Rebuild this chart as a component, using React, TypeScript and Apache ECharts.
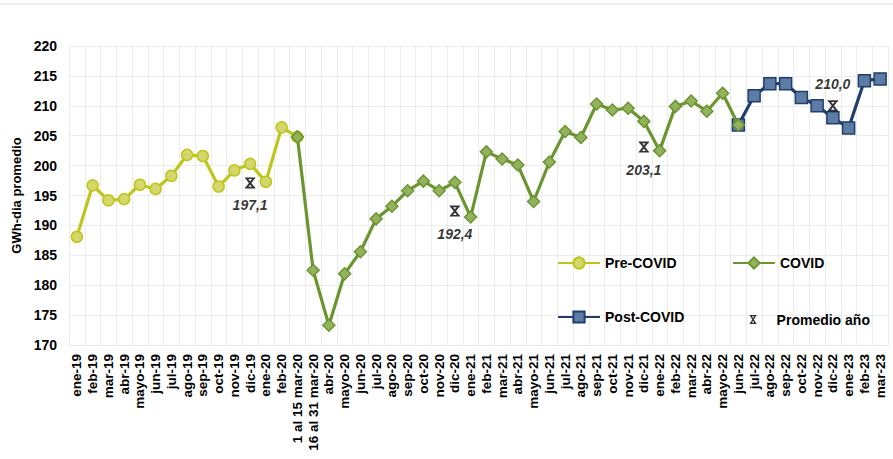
import React, { useEffect, useRef } from "react";
import * as echarts from "echarts";

const categories = [
  "ene-19", "feb-19", "mar-19", "abr-19", "mayo-19", "jun-19", "jul-19", "ago-19", "sep-19", "oct-19", "nov-19", "dic-19",
  "ene-20", "feb-20", "1 al 15 mar-20", "16 al 31 mar-20", "abr-20", "mayo-20", "jun-20", "jul-20", "ago-20", "sep-20", "oct-20", "nov-20", "dic-20",
  "ene-21", "feb-21", "mar-21", "abr-21", "mayo-21", "jun-21", "jul-21", "ago-21", "sep-21", "oct-21", "nov-21", "dic-21",
  "ene-22", "feb-22", "mar-22", "abr-22", "mayo-22", "jun-22", "jul-22", "ago-22", "sep-22", "oct-22", "nov-22", "dic-22",
  "ene-23", "feb-23", "mar-23",
];

const preCovidStart = "ene-19";
const preCovidValues = [188.1, 196.7, 194.2, 194.4, 196.8, 196.1, 198.3, 201.8, 201.6, 196.5, 199.2, 200.3, 197.3, 206.4, 204.8];

const covidStart = "1 al 15 mar-20";
const covidValues = [
  204.8, 182.5, 173.3, 181.9, 185.6, 191.1, 193.2, 195.8, 197.4, 195.8, 197.2,
  191.4, 202.3, 201.1, 200.1, 194.0, 200.6, 205.7, 204.7, 210.3, 209.3, 209.6, 207.4,
  202.5, 209.9, 210.8, 209.1, 212.1, 206.8,
];

const postCovidStart = "jun-22";
const postCovidValues = [206.8, 211.7, 213.7, 213.7, 211.4, 210.0, 208.0, 206.3, 214.2, 214.5];

const avgCategories = ["dic-19", "dic-20", "dic-21", "dic-22"];
const avgValues = [197.1, 192.4, 203.1, 210.0];
const avgLabelPos = ["bottom", "bottom", "bottom", "top"];

const yTicks = { min: 170, max: 220, interval: 5 };

function placeSeries(start: string, values: number[]) {
  const s = categories.indexOf(start);
  return categories.map((_, i) => (i >= s && i < s + values.length ? values[i - s] : null));
}

const starPath =
  "path://M1.5,0L8.5,0L8.5,1.5L1.5,1.5Z" +
  "M1.5,8.5L8.5,8.5L8.5,10L1.5,10Z" +
  "M1,0L2.8,0L9,10L7.2,10Z" +
  "M7.2,0L9,0L2.8,10L1,10Z";
const FONT = "Liberation Sans, Arial, sans-serif";

export default function App() {
  const ref = useRef<HTMLDivElement>(null);
  useEffect(() => {
    if (!ref.current) return;
    const chart = echarts.init(ref.current, undefined, { renderer: "svg" });

    const avgData = categories.map((c) => {
      const k = avgCategories.indexOf(c);
      if (k < 0) return null;
      return {
        value: avgValues[k],
        label: { position: avgLabelPos[k], distance: avgLabelPos[k] === "top" ? 9 : 10 },
      };
    });

    const legendText = { fontFamily: FONT, fontWeight: "bold", fontSize: 14, color: "#000" };
    const legendCommon = {
      itemWidth: 42,
      itemHeight: 14,
      itemGap: 0,
      padding: 0,
      textStyle: legendText,
    };

    chart.setOption({
      animation: false,
      backgroundColor: "#fff",
      textStyle: { fontFamily: FONT },
      graphic: [
        { type: "rect", shape: { x: 0, y: 3, width: 893, height: 2 }, style: { fill: "#eeeeee" }, silent: true },
      ],
      grid: { left: 69, right: 5, top: 46, bottom: 114 },
      legend: [
        { ...legendCommon, data: ["Pre-COVID"], left: 557, top: 256 },
        { ...legendCommon, data: ["COVID"], left: 732, top: 256 },
        { ...legendCommon, data: ["Post-COVID"], left: 557, top: 310 },
        {
          ...legendCommon,
          itemWidth: 9,
          itemHeight: 9,
          data: ["Promedio año"],
          left: 749.5,
          top: 312.5,
          textStyle: { ...legendText, padding: [0, 0, 0, 14] },
        },
      ],
      xAxis: {
        type: "category",
        data: categories,
        boundaryGap: true,
        axisLine: { show: true, lineStyle: { color: "#e6e6e6", width: 1 } },
        axisTick: { show: false },
        splitLine: { show: true, interval: 0, lineStyle: { color: "#ececec", width: 1 } },
        axisLabel: {
          interval: 0,
          rotate: 90,
          margin: 9,
          fontFamily: FONT,
          fontWeight: "bold",
          fontSize: 13.5,
          color: "#000",
        },
      },
      yAxis: {
        type: "value",
        min: yTicks.min,
        max: yTicks.max,
        interval: yTicks.interval,
        name: "GWh-dia promedio",
        nameLocation: "middle",
        nameGap: 44,
        nameTextStyle: { fontFamily: FONT, fontWeight: "bold", fontSize: 13, color: "#000" },
        axisLine: { show: false },
        axisTick: { show: false },
        splitLine: { show: true, lineStyle: { color: "#ececec", width: 1 } },
        axisLabel: { margin: 12, fontFamily: FONT, fontWeight: "bold", fontSize: 14, color: "#000" },
      },
      series: [
        {
          name: "Pre-COVID",
          type: "line",
          data: placeSeries(preCovidStart, preCovidValues),
          symbol: "circle",
          symbolSize: 11,
          showAllSymbol: true,
          connectNulls: false,
          lineStyle: { color: "#bec51d", width: 3.2 },
          itemStyle: { color: "#d4d86c", borderColor: "#bec51d", borderWidth: 1.5 },
          z: 2,
        },
        {
          name: "Post-COVID",
          type: "line",
          data: placeSeries(postCovidStart, postCovidValues),
          symbol: "rect",
          symbolSize: 12,
          showAllSymbol: true,
          lineStyle: { color: "#1f3e6d", width: 3.2 },
          itemStyle: { color: "#5d7ca4", borderColor: "#1f3e6d", borderWidth: 1.5 },
          z: 3,
        },
        {
          name: "COVID",
          type: "line",
          data: placeSeries(covidStart, covidValues),
          symbol: "diamond",
          symbolSize: 12,
          showAllSymbol: true,
          lineStyle: { color: "#6b9530", width: 3.2 },
          itemStyle: { color: "#92b25e", borderColor: "#6b9530", borderWidth: 1.5 },
          z: 4,
        },
        {
          name: "Promedio año",
          type: "scatter",
          data: avgData,
          symbol: starPath,
          symbolSize: 11,
          itemStyle: { color: "#000" },
          label: {
            show: true,
            fontFamily: FONT,
            fontStyle: "italic",
            fontWeight: "bold",
            fontSize: 14,
            color: "#000",
            formatter: (p: any) => Number(p.value).toFixed(1).replace(".", ","),
          },
          z: 5,
        },
      ],
    });
    return () => chart.dispose();
  }, []);

  return (
    <div
      ref={ref}
      style={{ position: "fixed", left: 0, top: 0, width: 893, height: 459, background: "#fff" }}
    />
  );
}
